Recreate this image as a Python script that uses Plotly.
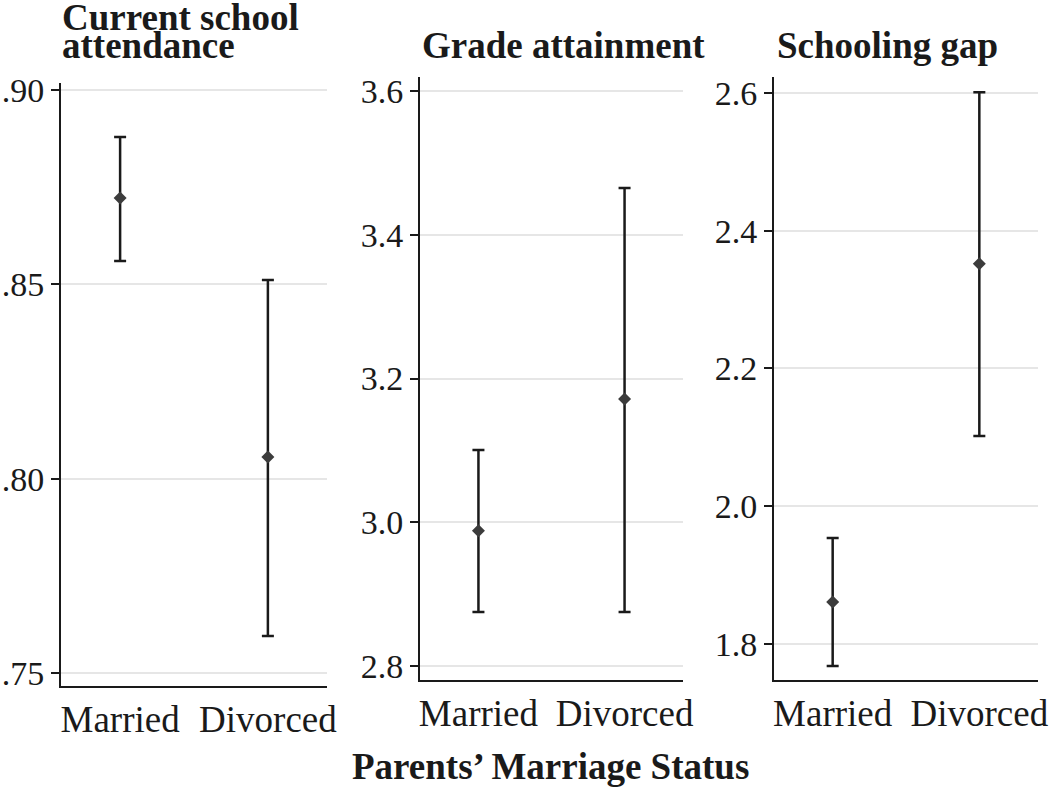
import plotly.graph_objects as go

categories = ["Married", "Divorced"]

title_lines = [["Current school", "attendance"], ["Grade attainment"], ["Schooling gap"]]

attend_mean = [0.8722, 0.8056]
attend_low = [0.8560, 0.7595]
attend_high = [0.8879, 0.8511]

grade_mean = [2.988, 3.1715]
grade_low = [2.875, 2.875]
grade_high = [3.1005, 3.465]

gap_mean = [1.861, 2.352]
gap_low = [1.768, 2.102]
gap_high = [1.954, 2.601]

attend_ticks = [0.75, 0.80, 0.85, 0.90]
attend_ticktext = [".75", ".80", ".85", ".90"]
grade_ticks = [2.8, 3.0, 3.2, 3.4, 3.6]
grade_ticktext = ["2.8", "3.0", "3.2", "3.4", "3.6"]
gap_ticks = [1.8, 2.0, 2.2, 2.4, 2.6]
gap_ticktext = ["1.8", "2.0", "2.2", "2.4", "2.6"]

W, H = 1050, 789
FONT = "Liberation Serif"


def px_x(a, b):
    return [a / W, b / W]


def px_y(top, bottom):
    return [(H - bottom) / H, (H - top) / H]


panels = [
    dict(mean=attend_mean, low=attend_low, high=attend_high, ticks=attend_ticks,
         ticktext=attend_ticktext, xd=px_x(61, 327), yd=px_y(83, 686),
         yr=[0.74666, 0.9018]),
    dict(mean=grade_mean, low=grade_low, high=grade_high, ticks=grade_ticks,
         ticktext=grade_ticktext, xd=px_x(420, 683), yd=px_y(77, 680),
         yr=[2.7805, 3.6195]),
    dict(mean=gap_mean, low=gap_low, high=gap_high, ticks=gap_ticks,
         ticktext=gap_ticktext, xd=px_x(774, 1038), yd=px_y(77, 680),
         yr=[1.7477, 2.6232]),
]

fig = go.Figure()
layout = dict(
    width=W, height=H, margin=dict(l=0, r=0, t=0, b=0, autoexpand=False),
    paper_bgcolor="white", plot_bgcolor="white", showlegend=False,
    font=dict(family=FONT, color="#1a1a1a", size=34),
)

for i, p in enumerate(panels):
    n = "" if i == 0 else str(i + 1)
    plus = [h - m for h, m in zip(p["high"], p["mean"])]
    minus = [m - l for m, l in zip(p["mean"], p["low"])]
    fig.add_trace(go.Scatter(
        x=categories, y=p["mean"], mode="markers",
        xaxis="x" + n, yaxis="y" + n,
        marker=dict(symbol="diamond", size=10, color="#3c3c3c"),
        error_y=dict(type="data", symmetric=False, array=plus, arrayminus=minus,
                     color="#1a1a1a", thickness=2.5, width=6),
    ))
    layout["xaxis" + n] = dict(
        domain=p["xd"], anchor="y" + n, type="category", range=[-0.4, 1.4],
        showgrid=False, showline=True, linecolor="#1a1a1a", linewidth=2,
        ticks="", tickfont=dict(size=37, family=FONT), zeroline=False,
        automargin=False,
    )
    layout["yaxis" + n] = dict(
        domain=p["yd"], anchor="x" + n, range=p["yr"],
        tickvals=p["ticks"], ticktext=p["ticktext"],
        showgrid=True, gridcolor="#e6e6e6", gridwidth=2,
        showline=True, linecolor="#1a1a1a", linewidth=2,
        ticks="outside", ticklen=8, tickwidth=1.5, tickcolor="#1a1a1a",
        tickfont=dict(size=34, family=FONT), zeroline=False,
        automargin=False,
    )

fig.update_layout(**layout)

# (x left, vertical centre y) per title line, in pixels from top-left
title_pos = [[(61, 18), (61, 46)], [(421, 46)], [(776, 46)]]
for lines, poss in zip(title_lines, title_pos):
    for t, (xp, yp) in zip(lines, poss):
        fig.add_annotation(
            text="<b>" + t + "</b>", xref="paper", yref="paper",
            x=xp / W, y=(H - yp) / H, xanchor="left", yanchor="middle",
            align="left", showarrow=False, borderpad=0,
            font=dict(family=FONT, size=37, color="#1a1a1a"),
        )

fig.add_annotation(
    text="<b>Parents’ Marriage Status</b>", xref="paper", yref="paper",
    x=550 / W, y=(H - 766) / H, xanchor="center", yanchor="middle",
    showarrow=False, borderpad=0,
    font=dict(family=FONT, size=37, color="#1a1a1a"),
)

fig.write_html(
    "out.html",
    config={"displayModeBar": False},
    post_script=(
        "document.body.style.margin='0';"
        "document.body.style.overflow='hidden';"
        "document.documentElement.style.overflow='hidden';"
    ),
)
